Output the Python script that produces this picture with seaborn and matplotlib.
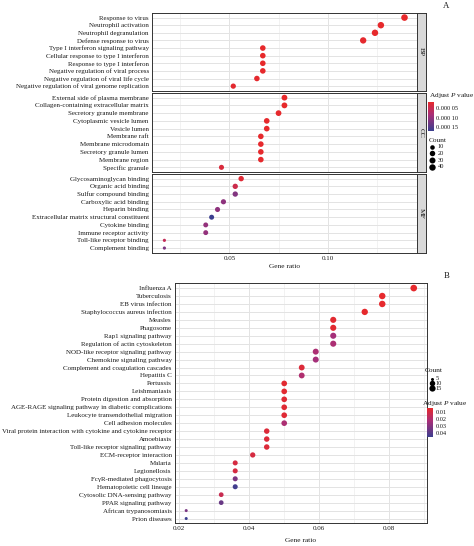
import matplotlib
matplotlib.use("Agg")
import matplotlib.pyplot as plt
import matplotlib.cm as mcm
import seaborn as sns
import pandas as pd
from matplotlib.colors import LinearSegmentedColormap, PowerNorm, Normalize
from matplotlib.ticker import MultipleLocator

# ---------------- data ----------------
bp_terms = ["Response to virus", "Neutrophil activation", "Neutrophil degranulation",
            "Defense response to virus", "Type I interferon signaling pathway",
            "Cellular response to type I interferon", "Response to type I interferon",
            "Negative regulation of viral process", "Negative regulation of viral life cycle",
            "Negative regulation of viral genome replication"]
bp_ratio = [0.139, 0.127, 0.124, 0.118, 0.067, 0.067, 0.067, 0.067, 0.064, 0.052]
bp_count = [46, 42, 41, 39, 22, 22, 22, 22, 21, 17]
bp_padj = [1.5e-5, 1.6e-5, 1.6e-5, 1.8e-5, 1.5e-5, 1.5e-5, 1.5e-5, 1.6e-5, 1.8e-5, 2.0e-5]

cc_terms = ["External side of plasma membrane", "Collagen-containing extracellular matrix",
            "Secretory granule membrane", "Cytoplasmic vesicle lumen", "Vesicle lumen",
            "Membrane raft", "Membrane microdomain", "Secretory granule lumen",
            "Membrane region", "Specific granule"]
cc_ratio = [0.078, 0.078, 0.075, 0.069, 0.069, 0.066, 0.066, 0.066, 0.066, 0.046]
cc_count = [26, 26, 25, 23, 23, 22, 22, 22, 22, 15]
cc_padj = [1.5e-5, 1.5e-5, 1.6e-5, 1.6e-5, 1.6e-5, 1.7e-5, 1.7e-5, 1.7e-5, 1.7e-5, 3.0e-5]

mf_terms = ["Glycosaminoglycan binding", "Organic acid binding", "Sulfur compound binding",
            "Carboxylic acid binding", "Heparin binding",
            "Extracellular matrix structural constituent", "Cytokine binding",
            "Immune receptor activity", "Toll-like receptor binding", "Complement binding"]
mf_ratio = [0.056, 0.053, 0.053, 0.047, 0.044, 0.041, 0.038, 0.038, 0.017, 0.017]
mf_count = [19, 18, 18, 16, 15, 14, 13, 13, 6, 6]
mf_padj = [2.5e-5, 4.5e-5, 1.15e-4, 1.05e-4, 1.05e-4, 1.71e-4, 1.0e-4, 1.0e-4, 5.5e-5, 1.2e-4]

go_facets = ["BP", "CC", "MF"]
go_pticks = [5e-5, 1e-4, 1.5e-4]
go_plabels = ["0.000 05", "0.000 10", "0.000 15"]
go_count_breaks = [10, 20, 30, 40]

kegg_terms = ["Influenza A", "Tuberculosis", "EB virus infection",
              "Staphylococcus aureus infection", "Measles", "Phagosome",
              "Rap1 signaling pathway", "Regulation of actin cytoskeleton",
              "NOD-like receptor signaling pathway", "Chemokine signaling pathway",
              "Complement and coagulation cascades", "Hepatitis C", "Pertussis",
              "Leishmaniasis", "Protein digestion and absorption",
              "AGE-RAGE signaling pathway in diabetic complications",
              "Leukocyte transendothelial migration", "Cell adhesion molecules",
              "Viral protein interaction with cytokine and cytokine receptor",
              "Amoebiasis", "Toll-like receptor signaling pathway", "ECM-receptor interaction",
              "Malaria", "Legionellosis", "Fc\u03b3R-mediated phagocytosis",
              "Hematopoietic cell lineage", "Cytosolic DNA-sensing pathway",
              "PPAR signaling pathway", "African trypanosomiasis", "Prion diseases"]
kegg_ratio = [0.087, 0.078, 0.078, 0.073, 0.064, 0.064, 0.064, 0.064, 0.059, 0.059,
              0.055, 0.055, 0.050, 0.050, 0.050, 0.050, 0.050, 0.050, 0.045, 0.045,
              0.045, 0.041, 0.036, 0.036, 0.036, 0.036, 0.032, 0.032, 0.022, 0.022]
kegg_count = [19, 17, 17, 16, 14, 14, 14, 14, 13, 13, 12, 12, 11, 11, 11, 11, 11, 11,
              10, 10, 10, 9, 8, 8, 8, 8, 7, 7, 5, 5]
kegg_padj = [0.005, 0.005, 0.005, 0.005, 0.006, 0.006, 0.024, 0.022, 0.022, 0.024,
             0.008, 0.021, 0.006, 0.006, 0.007, 0.007, 0.007, 0.022, 0.008, 0.008,
             0.008, 0.010, 0.010, 0.010, 0.033, 0.045, 0.014, 0.037, 0.033, 0.0466]
kegg_pticks = [0.01, 0.02, 0.03, 0.04]
kegg_plabels = ["0.01", "0.02", "0.03", "0.04"]
kegg_count_breaks = [5, 10, 15]

# ---------------- style ----------------
W, H, DPI = 474, 546, 100
sns.set_theme(style="white")
plt.rcParams["font.family"] = ["Liberation Serif", "DejaVu Serif"]
plt.rcParams["mathtext.fontset"] = "custom"
plt.rcParams["mathtext.rm"] = "Liberation Serif"
plt.rcParams["mathtext.it"] = "Liberation Serif:italic"

cmap = LinearSegmentedColormap.from_list(
    "padj", [(0.0, "#E8292A"), (0.45, "#A82F78"), (1.0, "#3B3F8F")])
BORDER = "#333333"
GRID = "#E3E3E3"
GRID_MINOR = "#EDEDED"
TXT = "#1A1A1A"
LAB_FS = 5.0

fig = plt.figure(figsize=(W / DPI, H / DPI), dpi=DPI)


def px_axes(l, t, r, b, **kw):
    return fig.add_axes([l / W, 1 - b / H, (r - l) / W, (b - t) / H], **kw)


def style_panel(ax, n, xlim, major, minor, show_x):
    ax.set_ylim(n - 0.4, -0.6)
    ax.set_xlim(*xlim)
    ax.xaxis.set_major_locator(MultipleLocator(major))
    ax.xaxis.set_minor_locator(MultipleLocator(minor))
    ax.set_axisbelow(True)
    ax.grid(which="major", color=GRID, linewidth=0.7)
    ax.grid(which="minor", axis="x", color=GRID_MINOR, linewidth=0.5)
    for s in ax.spines.values():
        s.set_color(BORDER)
        s.set_linewidth(0.7)
    ax.tick_params(axis="both", which="major", length=1.5, width=0.5, color=BORDER,
                   labelsize=LAB_FS, pad=0.8, labelcolor=TXT)
    ax.tick_params(axis="x", which="minor", length=0)
    if not show_x:
        ax.tick_params(axis="x", which="major", length=0, labelbottom=False)
    ax.set_ylabel("")
    ax.set_xlabel("")


# ---------------- Panel A (GO) ----------------
go_norm = Normalize(1.4e-5, 1.71e-4)
go_snorm = (6, 46)
go_sizes = (5.3, 22.6)
go_data = [(bp_terms, bp_ratio, bp_count, bp_padj),
           (cc_terms, cc_ratio, cc_count, cc_padj),
           (mf_terms, mf_ratio, mf_count, mf_padj)]
go_rows = [(13, 90.7), (93, 172), (174, 252.7)]
A_L, A_R = 152, 416.7

for i, ((terms, ratio, count, padj), (t, b), facet) in enumerate(zip(go_data, go_rows, go_facets)):
    df = pd.DataFrame({"term": terms, "ratio": ratio, "count": count, "padj": padj})
    ax = px_axes(A_L, t, A_R, b)
    sns.scatterplot(data=df, x="ratio", y="term", hue="padj", size="count",
                    palette=cmap, hue_norm=go_norm,
                    sizes=go_sizes, size_norm=PowerNorm(0.5, *go_snorm),
                    linewidth=0, legend=False, ax=ax, zorder=3)
    style_panel(ax, len(terms), (0.0107, 0.1452), 0.05, 0.025, show_x=(i == 2))
    if i == 2:
        ax.set_xticks([0.05, 0.10])
        ax.set_xticklabels(["0.05", "0.10"])
        ax.set_xlabel("Gene ratio", fontsize=5.3, color=TXT, labelpad=2.0)
    # facet strip
    sax = px_axes(A_R + 0.3, t, 425.7, b)
    sax.set_facecolor("#D9D9D9")
    sax.set_xticks([]); sax.set_yticks([])
    for s in sax.spines.values():
        s.set_color(BORDER); s.set_linewidth(0.7)
    sax.text(0.5, 0.5, facet, rotation=-90, ha="center", va="center",
             fontsize=5.4, color=TXT, transform=sax.transAxes)

# ---------------- Panel B (KEGG) ----------------
kegg_norm = Normalize(0.0043, 0.0466)
kegg_snorm = (5, 19)
kegg_sizes = (4.7, 23.0)
dfk = pd.DataFrame({"term": kegg_terms, "ratio": kegg_ratio,
                    "count": kegg_count, "padj": kegg_padj})
axb = px_axes(175, 283.3, 426.7, 523.3)
sns.scatterplot(data=dfk, x="ratio", y="term", hue="padj", size="count",
                palette=cmap, hue_norm=kegg_norm,
                sizes=kegg_sizes, size_norm=PowerNorm(0.5, *kegg_snorm),
                linewidth=0, legend=False, ax=axb, zorder=3)
style_panel(axb, len(kegg_terms), (0.0188, 0.0907), 0.02, 0.01, show_x=True)
axb.set_xticks([0.02, 0.04, 0.06, 0.08])
axb.set_xticklabels(["0.02", "0.04", "0.06", "0.08"])
axb.set_xlabel("Gene ratio", fontsize=5.3, color=TXT, labelpad=5.0)

# ---------------- legends / annotations ----------------
ov = fig.add_axes([0, 0, 1, 1])
ov.set_xlim(0, W); ov.set_ylim(H, 0)
ov.axis("off"); ov.patch.set_alpha(0)

ov.text(446.5, 5.5, "A", fontsize=6.3, ha="center", va="center", color=TXT)
ov.text(446.5, 276.5, "B", fontsize=6.3, ha="center", va="center", color=TXT)


def size_of(c, snorm, sizes):
    f = PowerNorm(0.5, *snorm, clip=True)(c)
    return sizes[0] + (sizes[1] - sizes[0]) * float(f)


def colorbar(l, t, r, b, norm, ticks, labels):
    cax = px_axes(l, t, r, b)
    cb = fig.colorbar(mcm.ScalarMappable(norm=norm, cmap=cmap), cax=cax)
    cb.outline.set_visible(False)
    cax.invert_yaxis()
    cb.set_ticks(ticks)
    cb.set_ticklabels(labels)
    cax.tick_params(length=0, labelsize=4.6, pad=1.5, labelcolor=TXT)
    return cb


# A legends
ov.text(429.3, 95.5, "Adjust $\\mathit{P}$ value", fontsize=5.3, ha="left", va="center", color=TXT)
colorbar(428, 101.5, 434, 131, go_norm, go_pticks, go_plabels)
ov.text(428.7, 140.5, "Count", fontsize=5.3, ha="left", va="center", color=TXT)
for c, y in zip(go_count_breaks, [146.7, 153.3, 160.0, 167.0]):
    ov.scatter([432.3], [y], s=size_of(c, go_snorm, go_sizes), color="black", linewidth=0)
    ov.text(437.5, y, str(c), fontsize=4.6, ha="left", va="center", color=TXT)

# B legends
ov.text(425, 370, "Count", fontsize=5.3, ha="left", va="center", color=TXT)
for c, y in zip(kegg_count_breaks, [379.0, 383.4, 388.0]):
    ov.scatter([431.7], [y], s=size_of(c, kegg_snorm, kegg_sizes), color="black", linewidth=0)
    ov.text(435.7, y, str(c), fontsize=4.6, ha="left", va="center", color=TXT)
ov.text(421.7, 403.3, "Adjust $\\mathit{P}$ value", fontsize=5.3, ha="left", va="center", color=TXT)
colorbar(427.3, 407.7, 433.3, 437.3, kegg_norm, kegg_pticks, kegg_plabels)

fig.savefig("out.png", dpi=DPI)
